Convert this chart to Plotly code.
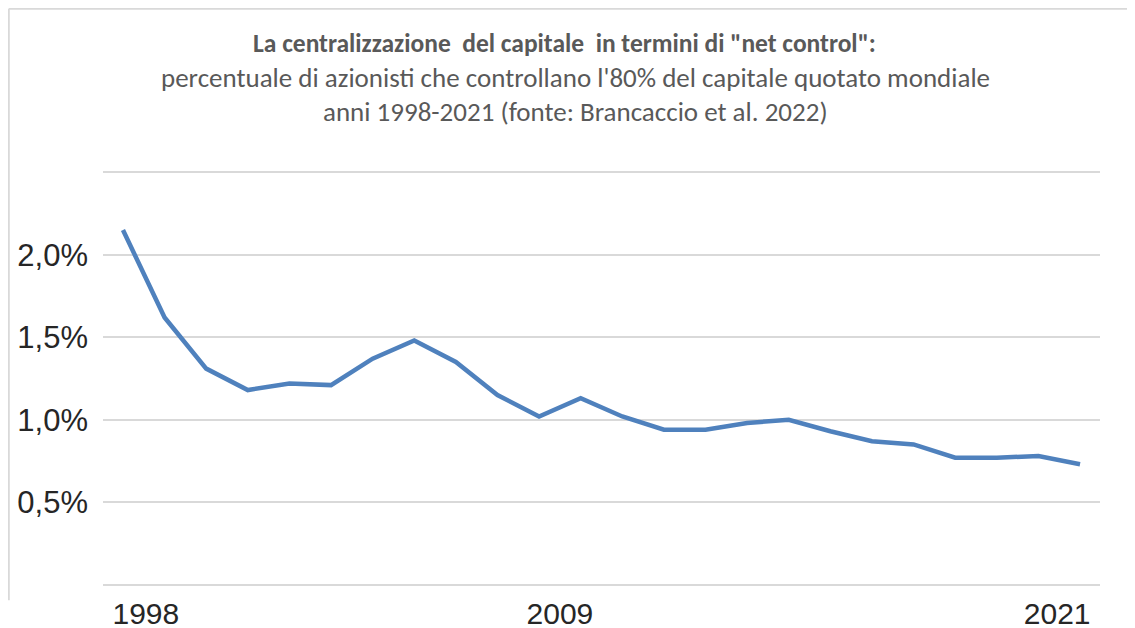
import plotly.graph_objects as go

years = list(range(1998, 2022))
net_control_pct = [2.15, 1.62, 1.31, 1.18, 1.22, 1.21, 1.37, 1.48, 1.35, 1.15, 1.02, 1.13,
                   1.02, 0.94, 0.94, 0.98, 1.00, 0.93, 0.87, 0.85, 0.77, 0.77, 0.78, 0.73]

y_ticks = [0, 0.5, 1.0, 1.5, 2.0, 2.5]
y_labels = ["", "0,5%", "1,0%", "1,5%", "2,0%", ""]
# Excel puts the labels between categories, so the ticks sit half a year off
x_tick_pos = [1998.55, 2008.5, 2020.45]
x_tick_labels = ["1998", "2009", "2021"]

title_lines = [
    "<b>La centralizzazione  del capitale  in termini di \"net control\":</b>",
    "percentuale di azionisti che controllano l'80% del capitale quotato mondiale",
    "anni 1998-2021 (fonte: Brancaccio et al. 2022)",
]

fig = go.Figure()

fig.add_trace(go.Scatter(
    x=years, y=net_control_pct,
    mode="lines",
    line=dict(color="#4f81bd", width=4.5),
    hovertemplate="%{x}: %{y:.2f}%<extra></extra>",
    showlegend=False,
))

# title, three centred lines (Excel-style)
title_font = "Carlito, Lato, 'Open Sans', sans-serif"
for text, xp, yp, size in zip(title_lines, [0.463, 0.474, 0.474],
                              [1.300, 1.218, 1.138], [25.5, 27, 27]):
    fig.add_annotation(
        text=text, x=xp, y=yp, xref="paper", yref="paper",
        xanchor="center", yanchor="middle", showarrow=False,
        font=dict(family=title_font, size=size, color="#595959"),
    )

# chart frame (cropped on right and bottom)
frame = dict(color="#d9d9d9", width=2)
fig.add_shape(type="line", xref="paper", yref="paper",
              x0=-0.0945, x1=-0.0945, y0=1.3826, y1=-0.029, line=frame)
fig.add_shape(type="line", xref="paper", yref="paper",
              x0=-0.0945, x1=1.05, y0=1.3826, y1=1.3826, line=frame)

# page body adds an 8px margin, so the figure is laid out 8px up/left
fig.update_layout(
    width=1135, height=628,
    margin=dict(l=95, r=43, t=161, b=48),
    paper_bgcolor="white", plot_bgcolor="white",
    font=dict(family="'Liberation Sans', Arial, sans-serif", color="#262626"),
)

fig.update_xaxes(
    range=[1997.52, 2021.48],
    tickvals=x_tick_pos, ticktext=x_tick_labels,
    showgrid=False, zeroline=False, showline=False, ticks="",
    tickfont=dict(size=30),
    ticklabelstandoff=5,
    automargin=False,
)
fig.update_yaxes(
    range=[-0.02, 2.52],
    tickvals=y_ticks, ticktext=y_labels,
    showgrid=True, gridcolor="#d9d9d9", gridwidth=2,
    zeroline=False, showline=False, ticks="",
    tickfont=dict(size=31),
    ticklabelstandoff=14,
    automargin=False,
)

fig.write_html("out.html")
